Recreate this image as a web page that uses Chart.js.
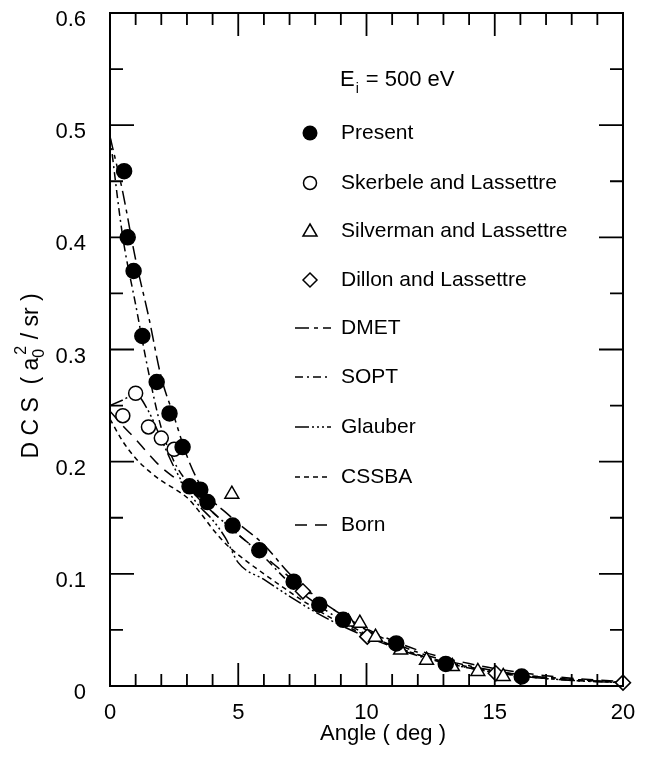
<!DOCTYPE html>
<html>
<head>
<meta charset="utf-8">
<script src="https://cdn.jsdelivr.net/npm/chart.js@4.4.0/dist/chart.umd.min.js"></script>
<style>
  html, body { margin: 0; padding: 0; background: #fff; }
  canvas { display: block; }
</style>
</head>
<body>
<canvas id="dcsChart" width="647" height="758"></canvas>
<script>
const FONT = '"Liberation Sans", Arial, Helvetica, sans-serif';

// measured points (angle in deg, DCS in a0^2/sr)
const presentX = [0.55, 0.69, 0.92, 1.26, 1.82, 2.32, 2.83, 3.10, 3.52, 3.80, 4.78, 5.82, 7.16, 8.16, 9.09, 11.16, 13.09, 16.05];
const presentY = [0.459, 0.400, 0.370, 0.312, 0.271, 0.243, 0.213, 0.178, 0.175, 0.164, 0.143, 0.121, 0.093, 0.0725, 0.059, 0.038, 0.0197, 0.0085];

const skerbeleX = [0.5, 1.0, 1.5, 2.0, 2.5];
const skerbeleY = [0.241, 0.261, 0.231, 0.221, 0.211];

const silvermanX = [4.75, 9.3, 9.74, 10.35, 11.33, 12.34, 13.35, 14.34, 15.33];
const silvermanY = [0.171, 0.057, 0.056, 0.0435, 0.032, 0.023, 0.0173, 0.013, 0.0085];

const dillonX = [7.52, 10.03, 15.04, 20.0];
const dillonY = [0.0844, 0.044, 0.0113, 0.003];

// theory curves
const curveX   = [0, 0.5, 1, 1.5, 2, 2.5, 3, 3.5, 4, 4.5, 5, 6, 7, 8, 9, 10, 12, 14, 16, 18, 20];
const dmetY    = [0.49, 0.44, 0.38, 0.33, 0.275, 0.24, 0.205, 0.18, 0.165, 0.155, 0.145, 0.126, 0.1, 0.08, 0.064, 0.05, 0.03, 0.018, 0.01, 0.006, 0.003];
const soptY    = [0.49, 0.40, 0.34, 0.28, 0.23, 0.2, 0.182, 0.168, 0.155, 0.145, 0.135, 0.115, 0.092, 0.074, 0.059, 0.046, 0.028, 0.016, 0.009, 0.005, 0.003];
const glauberY = [0.25, 0.255, 0.26, 0.245, 0.22, 0.195, 0.175, 0.16, 0.148, 0.132, 0.11, 0.095, 0.08, 0.066, 0.054, 0.044, 0.027, 0.016, 0.009, 0.005, 0.003];
const cssbaY   = [0.238, 0.218, 0.203, 0.192, 0.183, 0.176, 0.168, 0.155, 0.14, 0.127, 0.117, 0.1, 0.084, 0.069, 0.056, 0.045, 0.028, 0.017, 0.01, 0.006, 0.003];
const bornY    = [0.245, 0.232, 0.22, 0.207, 0.195, 0.186, 0.178, 0.166, 0.155, 0.145, 0.135, 0.116, 0.097, 0.079, 0.064, 0.051, 0.032, 0.02, 0.012, 0.007, 0.004];

const xTickLabels = ['0', '5', '10', '15', '20'];
const yTickLabels = ['0', '0.1', '0.2', '0.3', '0.4', '0.5', '0.6'];

const DASH = {
    dmet: [14, 5, 4, 5],
    sopt: [8, 4, 2, 4],
    glauber: [14, 3, 2, 3, 2, 3, 2, 3],
    cssba: [5, 4],
    born: [12, 8]
};

function pts(xs, ys) {
    return xs.map((x, i) => ({ x: x, y: ys[i] }));
}

function curve(label, ys, dash) {
    return {
        label: label,
        data: pts(curveX, ys),
        showLine: true,
        borderColor: '#000',
        borderWidth: 1.5,
        borderDash: dash,
        pointRadius: 0,
        cubicInterpolationMode: 'monotone',
        fill: false
    };
}

function markers(label, xs, ys, style, radius, fillColor) {
    return {
        label: label,
        data: pts(xs, ys),
        showLine: false,
        clip: false,
        pointStyle: style,
        pointRadius: radius,
        pointHoverRadius: radius,
        pointBackgroundColor: fillColor,
        pointBorderColor: '#000',
        pointBorderWidth: 1.5
    };
}

// frame, inward ticks, titles and legend
const decorPlugin = {
    id: 'decor',
    afterDraw(chart) {
        const ctx = chart.ctx;
        const xs = chart.scales.x;
        const ys = chart.scales.y;
        const a = chart.chartArea;
        ctx.save();
        ctx.strokeStyle = '#000';
        ctx.lineWidth = 2;
        ctx.setLineDash([]);
        ctx.strokeRect(a.left, a.top, a.right - a.left, a.bottom - a.top);

        ctx.lineWidth = 1.8;
        ctx.beginPath();
        for (let i = 1; i < 20; i++) {
            const px = xs.getPixelForValue(i);
            const len = i % 5 === 0 ? 23 : 12;
            ctx.moveTo(px, a.bottom); ctx.lineTo(px, a.bottom - len);
            ctx.moveTo(px, a.top); ctx.lineTo(px, a.top + len);
        }
        for (let i = 1; i < 12; i++) {
            const py = ys.getPixelForValue(i * 0.05);
            const len = i % 2 === 0 ? 24 : 13;
            ctx.moveTo(a.left, py); ctx.lineTo(a.left + len, py);
            ctx.moveTo(a.right, py); ctx.lineTo(a.right - len, py);
        }
        ctx.stroke();

        // x title
        ctx.fillStyle = '#000';
        ctx.font = '22px ' + FONT;
        ctx.textAlign = 'center';
        ctx.textBaseline = 'middle';
        ctx.fillText('Angle ( deg )', 383, 734);

        // y title, rotated, with a0 subscript and 2 superscript
        const big = '23px ' + FONT;
        const small = '16px ' + FONT;
        const p1 = 'D C S  ( a';
        const p3 = ' / sr )';
        ctx.font = big;
        const w1 = ctx.measureText(p1).width;
        const w3 = ctx.measureText(p3).width;
        ctx.font = small;
        const w2 = ctx.measureText('0').width + 3;
        const total = w1 + w2 + w3;
        ctx.translate(38, 376);
        ctx.rotate(-Math.PI / 2);
        ctx.textAlign = 'left';
        ctx.textBaseline = 'alphabetic';
        let cx = -total / 2;
        ctx.font = big;
        ctx.fillText(p1, cx, 0);
        cx += w1;
        ctx.font = small;
        ctx.fillText('0', cx, 6);
        ctx.fillText('2', cx + 3, -12);
        cx += w2;
        ctx.font = big;
        ctx.fillText(p3, cx, 0);
        ctx.restore();

        drawLegend(ctx);
    }
};

function drawLegend(ctx) {
    const mx = 310;
    const tx = 341;
    ctx.save();
    ctx.fillStyle = '#000';
    ctx.strokeStyle = '#000';
    ctx.textAlign = 'left';
    ctx.textBaseline = 'middle';

    ctx.font = '22px ' + FONT;
    ctx.fillText('E', 340, 80);
    const we = ctx.measureText('E').width;
    ctx.font = '14px ' + FONT;
    ctx.fillText('i', 340 + we + 1, 89);
    ctx.font = '22px ' + FONT;
    ctx.fillText(' = 500 eV', 340 + we + 5, 80);

    ctx.font = '21px ' + FONT;
    const rows = [
        { y: 133, text: 'Present', kind: 'dot' },
        { y: 183, text: 'Skerbele and Lassettre', kind: 'circle' },
        { y: 231, text: 'Silverman and Lassettre', kind: 'triangle' },
        { y: 280, text: 'Dillon and Lassettre', kind: 'diamond' },
        { y: 328, text: 'DMET', dash: DASH.dmet },
        { y: 377, text: 'SOPT', dash: DASH.sopt },
        { y: 427, text: 'Glauber', dash: DASH.glauber },
        { y: 477, text: 'CSSBA', dash: DASH.cssba },
        { y: 525, text: 'Born', dash: DASH.born }
    ];
    rows.forEach(r => {
        ctx.lineWidth = 1.5;
        if (r.dash) {
            ctx.setLineDash(r.dash);
            ctx.beginPath();
            ctx.moveTo(295, r.y);
            ctx.lineTo(331, r.y);
            ctx.stroke();
            ctx.setLineDash([]);
        } else if (r.kind === 'dot') {
            ctx.beginPath();
            ctx.arc(mx, r.y, 7.5, 0, Math.PI * 2);
            ctx.fill();
        } else if (r.kind === 'circle') {
            ctx.beginPath();
            ctx.arc(mx, r.y, 6.5, 0, Math.PI * 2);
            ctx.stroke();
        } else if (r.kind === 'triangle') {
            ctx.beginPath();
            ctx.moveTo(mx, r.y - 7);
            ctx.lineTo(mx + 7, r.y + 5);
            ctx.lineTo(mx - 7, r.y + 5);
            ctx.closePath();
            ctx.stroke();
        } else if (r.kind === 'diamond') {
            ctx.beginPath();
            ctx.moveTo(mx, r.y - 7);
            ctx.lineTo(mx + 7, r.y);
            ctx.lineTo(mx, r.y + 7);
            ctx.lineTo(mx - 7, r.y);
            ctx.closePath();
            ctx.stroke();
        }
        ctx.fillText(r.text, tx, r.y);
    });
    ctx.restore();
}

const ctx = document.getElementById('dcsChart').getContext('2d');
new Chart(ctx, {
    type: 'scatter',
    data: {
        datasets: [
            markers('Present', presentX, presentY, 'circle', 7.5, '#000'),
            markers('Skerbele and Lassettre', skerbeleX, skerbeleY, 'circle', 7, '#fff'),
            markers('Silverman and Lassettre', silvermanX, silvermanY, 'triangle', 8, '#fff'),
            markers('Dillon and Lassettre', dillonX, dillonY, 'rectRot', 7.5, '#fff'),
            curve('DMET', dmetY, DASH.dmet),
            curve('SOPT', soptY, DASH.sopt),
            curve('Glauber', glauberY, DASH.glauber),
            curve('CSSBA', cssbaY, DASH.cssba),
            curve('Born', bornY, DASH.born)
        ]
    },
    options: {
        responsive: false,
        animation: false,
        layout: { padding: { top: 13, right: 24, left: 0, bottom: 0 } },
        plugins: {
            legend: { display: false },
            tooltip: { enabled: false }
        },
        scales: {
            x: {
                type: 'linear',
                min: 0,
                max: 20,
                grid: { display: false },
                border: { display: false },
                ticks: {
                    stepSize: 5,
                    padding: 6,
                    color: '#000',
                    font: { family: FONT, size: 22 },
                    maxRotation: 0,
                    callback: v => xTickLabels[v / 5]
                },
                afterFit: s => { s.height = 72; s.paddingLeft = 0; s.paddingRight = 0; }
            },
            y: {
                type: 'linear',
                min: 0,
                max: 0.6,
                grid: { display: false },
                border: { display: false },
                ticks: {
                    stepSize: 0.1,
                    padding: 16,
                    labelOffset: 7,
                    color: '#000',
                    font: { family: FONT, size: 22 },
                    callback: v => yTickLabels[Math.round(v * 10)]
                },
                afterFit: s => { s.width = 110; s.paddingTop = 0; s.paddingBottom = 0; }
            }
        }
    },
    plugins: [decorPlugin]
});
</script>
</body>
</html>
